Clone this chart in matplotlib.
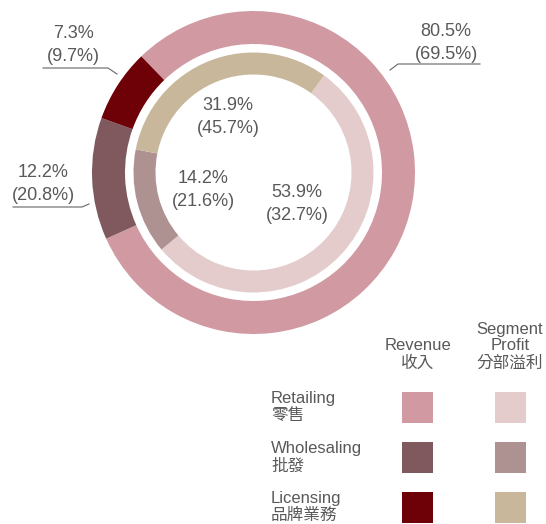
import matplotlib
matplotlib.use("Agg")
import matplotlib.pyplot as plt
from matplotlib.patches import Rectangle

plt.rcParams['font.family'] = ['Liberation Sans', 'Noto Sans CJK TC', 'DejaVu Sans']

# segments (order: Retailing, Wholesaling, Licensing)
segments_en = ["Retailing", "Wholesaling", "Licensing"]
segments_zh = ["零售", "批發", "品牌業務"]
revenue_cur = [80.5, 12.2, 7.3]
revenue_prev = [69.5, 20.8, 9.7]
profit_cur = [53.9, 14.2, 31.9]
profit_prev = [32.7, 21.6, 45.7]

revenue_colors = ["#D19AA3", "#7F595E", "#6E0008"]
profit_colors = ["#E4CCCD", "#AE9291", "#C8B79B"]
TXT = "#595959"

W, H = 546, 524


def py(y):
    # pixel row (from top) -> data y
    return H - y


fig = plt.figure(figsize=(W / 100, H / 100), dpi=100)
ax = fig.add_axes([0, 0, 1, 1])

cx, cy = 253.5, py(172.5)
ax.pie(revenue_cur, radius=161.5, center=(cx, cy), startangle=134, counterclock=False,
       colors=revenue_colors, wedgeprops=dict(width=33, edgecolor="none"))
ax.pie(profit_cur, radius=120, center=(cx, cy), startangle=54, counterclock=False,
       colors=profit_colors, wedgeprops=dict(width=22, edgecolor="none"))

ax.set_xlim(0, W)
ax.set_ylim(0, H)
ax.set_aspect("auto")
ax.axis("off")

# outer (revenue) labels with leader lines
outer_pos = [(446, 43), (43, 184), (73, 45)]
outer_lines = [
    [(390, 70), (398, 64), (480, 64)],
    [(89, 204), (82, 207), (13, 207)],
    [(117, 74), (108, 68), (43, 68)],
]
for (x, y), cur, prev, pts in zip(outer_pos, revenue_cur, revenue_prev, outer_lines):
    ax.text(x, py(y), f"{cur:.1f}%\n({prev:.1f}%)", ha="center", va="center",
            fontsize=13, color=TXT, linespacing=1.4)
    ax.plot([p[0] for p in pts], [py(p[1]) for p in pts], color="#666666", lw=0.8)

# inner (segment profit) labels
inner_pos = [(297, 204), (203, 190), (228, 117)]
for (x, y), cur, prev in zip(inner_pos, profit_cur, profit_prev):
    ax.text(x, py(y), f"{cur:.1f}%\n({prev:.1f}%)", ha="center", va="center",
            fontsize=13, color=TXT, linespacing=1.4)

# legend grid
ax.text(418, py(354), "Revenue\n收入", ha="center", va="center", fontsize=12,
        color=TXT, linespacing=1.2)
ax.text(510, py(346), "Segment\nProfit\n分部溢利", ha="center", va="center", fontsize=12,
        color=TXT, linespacing=1.15)

row_tops = [392, 442, 492]
for en, zh, c1, c2, top in zip(segments_en, segments_zh, revenue_colors, profit_colors, row_tops):
    ax.text(271, py(top + 15), f"{en}\n{zh}", ha="left", va="center", fontsize=12,
            color=TXT, linespacing=1.2)
    ax.add_patch(Rectangle((402, py(top + 31)), 31, 31, facecolor=c1, edgecolor="none"))
    ax.add_patch(Rectangle((495, py(top + 31)), 31, 31, facecolor=c2, edgecolor="none"))

fig.savefig("out.png", dpi=100)
